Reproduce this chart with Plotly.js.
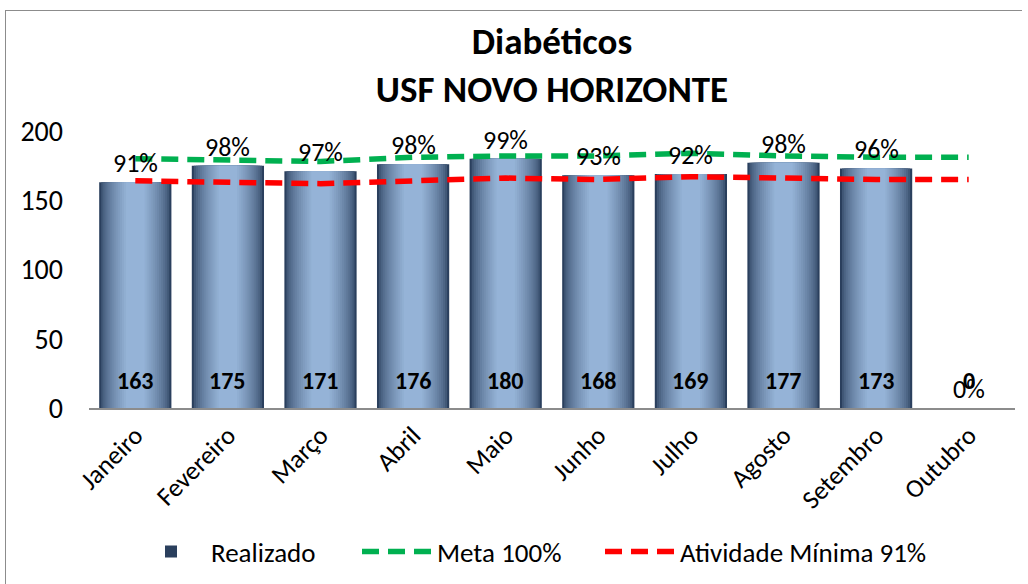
<!DOCTYPE html>
<html>
<head>
<meta charset="utf-8">
<script src="https://cdn.plot.ly/plotly-3.0.1.min.js"></script>
<style>
  html, body { margin: 0; padding: 0; background: #ffffff; width: 1028px; height: 584px; overflow: hidden; }
  #chart { position: absolute; left: 5px; top: 10px; width: 1017px; height: 580px; border: 1px solid #8c8c8c; box-sizing: border-box; }
</style>
</head>
<body>
<div id="chart"></div>
<script>
// ---- data ----
const months = ["Janeiro", "Fevereiro", "Março", "Abril", "Maio", "Junho", "Julho", "Agosto", "Setembro", "Outubro"];
const realizado = [163, 175, 171, 176, 180, 168, 169, 177, 173, 0];
const percentual = [91, 98, 97, 98, 99, 93, 92, 98, 96, 0];
const meta = [180, 179, 178, 181, 182, 182, 184, 182, 181, 181];
const atividadeMinima = [164, 163, 162, 164, 166, 165, 167, 166, 165, 165];

const FONT = "Carlito, Lato, 'Liberation Sans', sans-serif";

// ---- gradient-looking bars: stacked overlay layers of the same data ----
function mix(a, b, t) {
  const pa = [parseInt(a.slice(1,3),16), parseInt(a.slice(3,5),16), parseInt(a.slice(5,7),16)];
  const pb = [parseInt(b.slice(1,3),16), parseInt(b.slice(3,5),16), parseInt(b.slice(5,7),16)];
  const c = pa.map((v, i) => Math.round(v + (pb[i] - v) * t));
  return "rgb(" + c.join(",") + ")";
}
const DARK = "#2a3f5d", LIGHT = "#95b3d7";
const layers = 14;
const traces = [];
for (let i = 0; i < layers; i++) {
  const t = i / (layers - 1);
  const w = 0.78 - t * 0.58;
  traces.push({
    type: "bar",
    x: months,
    y: realizado,
    width: w,
    name: "Realizado",
    showlegend: i === 0,
    legendgroup: "real",
    legendwidth: 141,
    marker: { color: mix(DARK, LIGHT, Math.pow(t, 0.6)), line: { width: 0 } },
    hoverinfo: "skip"
  });
}

traces.push({
  type: "scatter", mode: "lines", x: months, y: meta, name: "Meta 100%",
  legendwidth: 158,
  line: { color: "#00b050", width: 5.5, dash: "17px,9px" }, hoverinfo: "skip"
});
traces.push({
  type: "scatter", mode: "lines", x: months, y: atividadeMinima, name: "Atividade Mínima 91%",
  line: { color: "#ff0000", width: 5.5, dash: "17px,9px" }, hoverinfo: "skip"
});

// ---- labels ----
const annotations = [];
months.forEach((m, i) => {
  annotations.push({
    x: m, y: realizado[i], xref: "x", yref: "y", yshift: 19,
    text: percentual[i] + "%", showarrow: false, yanchor: "middle",
    font: { family: FONT, size: 26, color: "#000000" }
  });
  annotations.push({
    x: m, y: 0, xref: "x", yref: "y", yshift: 28,
    text: "<b>" + realizado[i] + "</b>", showarrow: false, yanchor: "middle",
    font: { family: FONT, size: 24, color: "#000000" }
  });
});

const layout = {
  width: 1017, height: 580,
  paper_bgcolor: "#ffffff", plot_bgcolor: "#ffffff",
  margin: { l: 83, r: 8, t: 120, b: 183, pad: 0 },
  barmode: "overlay",
  title: {
    text: "<b>Diabéticos<br>USF NOVO HORIZONTE</b>",
    x: 0.5, xanchor: "center", xref: "paper",
    y: 1 - 43 / 580, yanchor: "middle", yref: "container",
    font: { family: FONT, size: 37, color: "#000000" }
  },
  xaxis: {
    type: "category",
    tickangle: -45,
    showline: true, linecolor: "#8c8c8c", linewidth: 2,
    showgrid: false, zeroline: false, ticks: "",
    tickfont: { family: FONT, size: 26, color: "#000000" }
  },
  yaxis: {
    range: [0, 200], dtick: 50,
    showline: false, showgrid: false, zeroline: false, ticks: "",
    ticklabelstandoff: 25,
    tickfont: { family: FONT, size: 28, color: "#000000" }
  },
  legend: {
    orientation: "h",
    x: 125 / 1017, xanchor: "left", xref: "container",
    y: 1 - 541 / 580, yanchor: "middle", yref: "container",
    itemwidth: 70,
    font: { family: FONT, size: 27, color: "#000000" },
    traceorder: "normal"
  },
  annotations: annotations,
  showlegend: true
};

Plotly.newPlot("chart", traces, layout, { staticPlot: true, displayModeBar: false });
</script>
</body>
</html>
